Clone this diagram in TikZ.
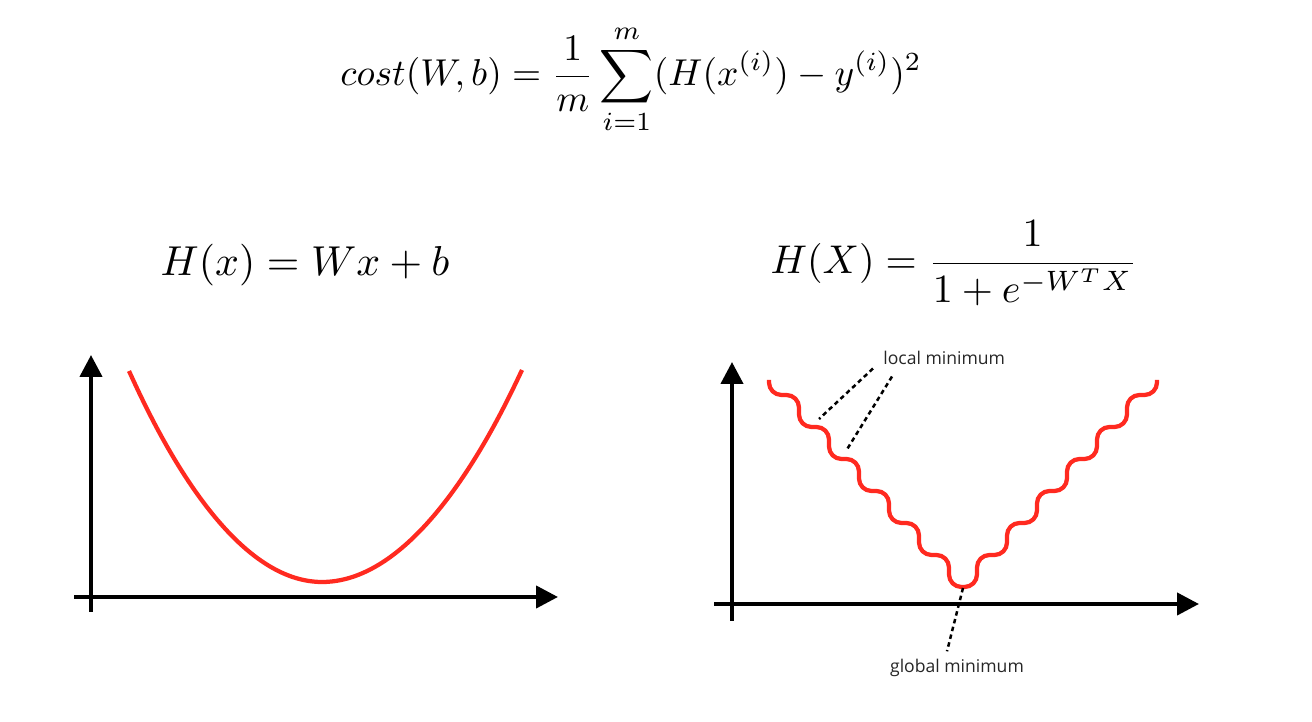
\documentclass[tikz,border=0pt]{standalone}
\usepackage{amsmath}
\usepackage{fontspec}
\newfontfamily\labelfont{Open Sans}
\usepackage{tikz}
\usetikzlibrary{arrows.meta, calc}
\definecolor{curvered}{RGB}{255,42,32}
\tikzset{
  axisline/.style={
    line width=0.085cm,
    -{Triangle[length=0.44cm, width=0.44cm]}
  },
  costcurve/.style={
    draw=curvered,
    line width=0.085cm,
    line join=round
  },
  hintline/.style={
    line width=0.05cm,
    dash pattern=on 0.09cm off 0.07cm
  },
  hintlabel/.style={
    font=\labelfont\fontsize{10}{12}\selectfont,
    text=black!85,
    inner sep=0pt
  },
  formula/.style={
    inner sep=0pt
  }
}

\begin{document}
\begin{tikzpicture}[x=0.02cm, y=0.02cm]
  \useasboundingbox (0,0) rectangle (1312,722);

  \node[formula] (costeq) at (631,643)
    {\scalebox{2.13}{$\displaystyle cost(W,b) = \frac{1}{m}\sum_{i=1}^{m}(H(x^{(i)}) - y^{(i)})^2$}};
  \node[formula] (lineq) at (305,457)
    {\scalebox{2.38}{$H(x) = Wx + b$}};
  \node[formula] (sigeq) at (954,459)
    {\scalebox{2.28}{$\displaystyle H(X) = \frac{1}{1+e^{-W^T X}}$}};

  % left plot
  \coordinate (lyo) at (91,110);
  \coordinate (lyt) at (91,367);
  \coordinate (lxo) at (74,125);
  \coordinate (lxt) at (558,125);
  \draw[axisline] (lyo) -- (lyt);
  \draw[axisline] (lxo) -- (lxt);
  \draw[costcurve] (129,351) parabola bend (322,140) (522,352);

  % right plot
  \coordinate (ryo) at (732,101);
  \coordinate (ryt) at (732,360);
  \coordinate (rxo) at (714,118);
  \coordinate (rxt) at (1199,118);
  \draw[axisline] (ryo) -- (ryt);
  \draw[axisline] (rxo) -- (rxt);
  \draw[costcurve, rounded corners=0.25cm] (769,342) -- (769,327)
    foreach \k in {1,...,6} { -- ++(30,0) -- ++(0,-32) }
    -- ++(28,0)
    foreach \k in {1,...,6} { -- ++(0,32) -- ++(30,0) }
    -- ++(0,15);

  \coordinate (lmin1) at (819,303);
  \coordinate (lmin2) at (846,271);
  \coordinate (gmin) at (963,134);
  \node[hintlabel, anchor=base west] (locallbl) at (883,357) {local minimum};
  \node[hintlabel, anchor=base] (globallbl) at (957,49) {global minimum};

  \draw[hintline] ($(locallbl.south west)+(-10,-3)$) -- (lmin1);
  \draw[hintline] ($(locallbl.south west)+(9,-11)$) -- (lmin2);
  \draw[hintline] (gmin) -- ($(globallbl.north)+(-10,8)$);
\end{tikzpicture}
\end{document}
